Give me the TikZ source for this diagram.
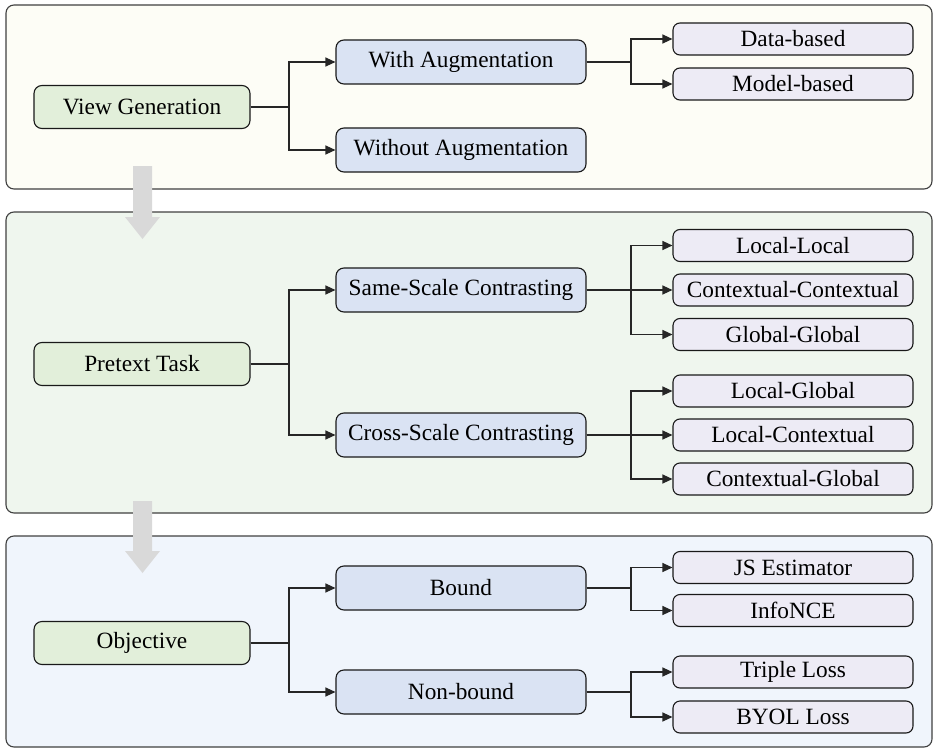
\documentclass[tikz,border=0pt]{standalone}
\usepackage{fontspec}
\setmainfont{Liberation Serif}
\usetikzlibrary{arrows.meta}

\definecolor{viewpanel}{HTML}{FDFDF6}
\definecolor{taskpanel}{HTML}{EFF6EE}
\definecolor{objpanel}{HTML}{F0F5FC}
\definecolor{rootgreen}{HTML}{E2EFDA}
\definecolor{midblue}{HTML}{DAE3F3}
\definecolor{leafpurple}{HTML}{EDEBF5}
\definecolor{flowgray}{HTML}{D9D9D9}

\tikzset{
    panel/.style={draw=black!75, line width=1.1pt, rounded corners=8pt},
    box/.style={draw=black!90, line width=1.1pt, rounded corners=8pt, inner sep=2pt,
        font=\fontsize{23.3}{27}\selectfont},
    rootbox/.style={box, fill=rootgreen, minimum width=216pt, minimum height=43pt},
    midbox/.style={box, fill=midblue, minimum width=250pt, minimum height=44pt},
    leafbox/.style={box, fill=leafpurple, minimum width=240pt, minimum height=32pt, rounded corners=7pt},
    link/.style={draw=black!85, line width=1.2pt, -{Triangle[length=10pt,width=9pt]}},
    flow/.style={fill=flowgray}
}

\begin{document}
\begin{tikzpicture}[x=1pt, y=-1pt]
            \useasboundingbox (0,0) rectangle (934,749);

            % Panels
            \draw[panel, fill=viewpanel] (6,5) rectangle (932,189);
            \draw[panel, fill=taskpanel] (6,212) rectangle (932,513);
            \draw[panel, fill=objpanel] (6,536) rectangle (932,747);

            % Flow arrows
            \fill[flow] (133,166) -- (152,166) -- (152,217) -- (160,217) -- (142.5,239) -- (125,217) -- (133,217) -- cycle;
            \fill[flow] (133,501) -- (152,501) -- (152,551) -- (160,551) -- (142.5,573) -- (125,551) -- (133,551) -- cycle;

            % Nodes
            \node[rootbox] (view) at (142,107) {View Generation};
            \node[midbox] (withaug) at (461,62) {With Augmentation};
            \node[midbox] (withoutaug) at (461,150) {Without Augmentation};
            \node[leafbox] (data) at (793,39) {Data-based};
            \node[leafbox] (model) at (793,84) {Model-based};

            \node[rootbox] (pretext) at (142,364) {Pretext Task};
            \node[midbox] (same) at (461,290) {Same-Scale Contrasting};
            \node[midbox] (cross) at (461,435) {Cross-Scale Contrasting};
            \node[leafbox] (ll) at (793,245.5) {Local-Local};
            \node[leafbox] (cc) at (793,290) {Contextual-Contextual};
            \node[leafbox] (gg) at (793,334.5) {Global-Global};
            \node[leafbox] (lg) at (793,391) {Local-Global};
            \node[leafbox] (lc) at (793,435) {Local-Contextual};
            \node[leafbox] (cg) at (793,479) {Contextual-Global};

            \node[rootbox] (objective) at (142,643) {Objective};
            \node[midbox] (bound) at (461,588) {Bound};
            \node[midbox] (nonbound) at (461,692) {Non-bound};
            \node[leafbox] (js) at (793,567.5) {JS Estimator};
            \node[leafbox] (infonce) at (793,610.5) {InfoNCE};
            \node[leafbox] (triple) at (793,672) {Triple Loss};
            \node[leafbox] (byol) at (793,717) {BYOL Loss};

            % Lines
            \draw[link] (view.east) -- (289,107) |- (withaug.west);
            \draw[link] (view.east) -- (289,107) |- (withoutaug.west);
            \draw[link] (withaug.east) -- (631,62) |- (data.west);
            \draw[link] (withaug.east) -- (631,62) |- (model.west);

            \draw[link] (pretext.east) -- (289,364) |- (same.west);
            \draw[link] (pretext.east) -- (289,364) |- (cross.west);
            \draw[link] (same.east) -- (631,290) |- (ll.west);
            \draw[link] (same.east) -- (cc.west);
            \draw[link] (same.east) -- (631,290) |- (gg.west);
            \draw[link] (cross.east) -- (631,435) |- (lg.west);
            \draw[link] (cross.east) -- (lc.west);
            \draw[link] (cross.east) -- (631,435) |- (cg.west);

            \draw[link] (objective.east) -- (289,643) |- (bound.west);
            \draw[link] (objective.east) -- (289,643) |- (nonbound.west);
            \draw[link] (bound.east) -- (631,588) |- (js.west);
            \draw[link] (bound.east) -- (631,588) |- (infonce.west);
            \draw[link] (nonbound.east) -- (631,692) |- (triple.west);
            \draw[link] (nonbound.east) -- (631,692) |- (byol.west);
        \end{tikzpicture}
\end{document}
